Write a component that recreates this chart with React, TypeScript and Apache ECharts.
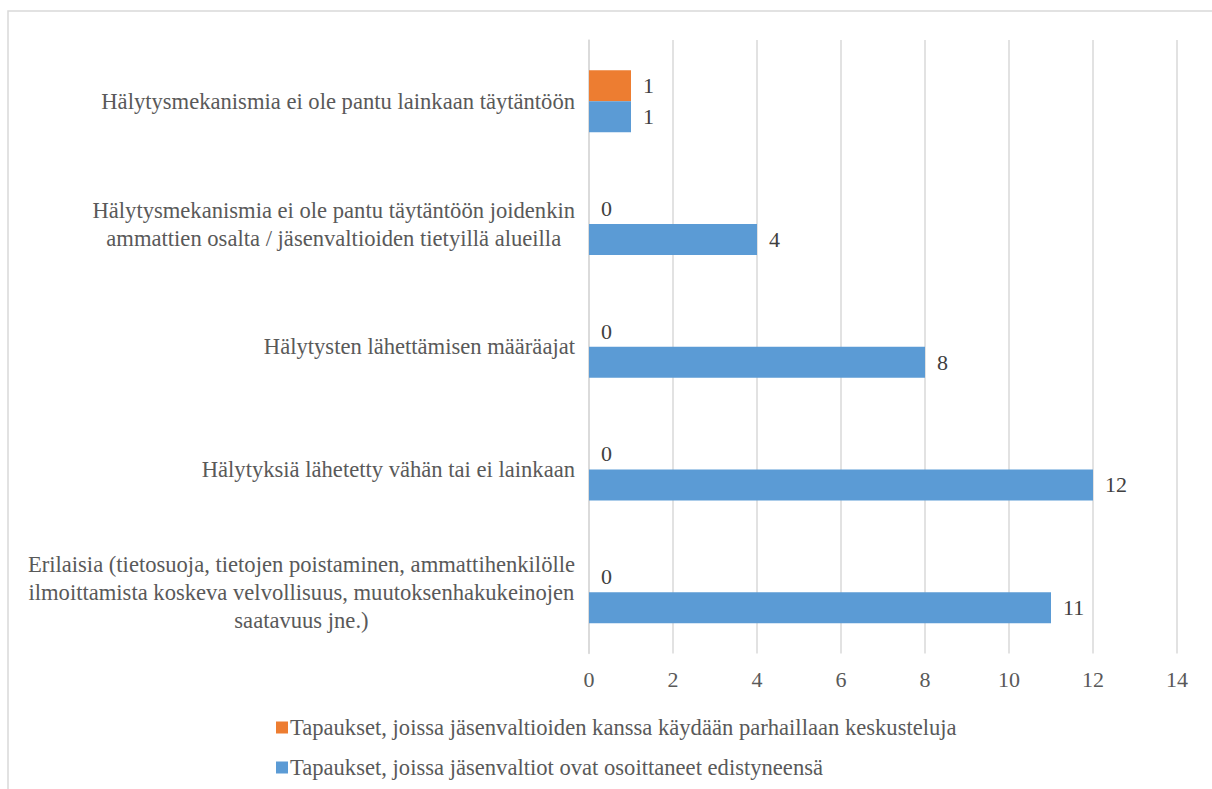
import React, { useEffect, useRef } from "react";
import * as echarts from "echarts";

const categories = [
  "Erilaisia (tietosuoja, tietojen poistaminen, ammattihenkilölle\nilmoittamista koskeva velvollisuus, muutoksenhakukeinojen\nsaatavuus jne.)",
  "Hälytyksiä lähetetty vähän tai ei lainkaan",
  "Hälytysten lähettämisen määräajat",
  "Hälytysmekanismia ei ole pantu täytäntöön joidenkin\nammattien osalta / jäsenvaltioiden tietyillä alueilla",
  "Hälytysmekanismia ei ole pantu lainkaan täytäntöön",
];

const seriesDiscussionName =
  "Tapaukset, joissa jäsenvaltioiden kanssa käydään parhaillaan keskusteluja";
const seriesProgressName =
  "Tapaukset, joissa jäsenvaltiot ovat osoittaneet edistyneensä";

const discussionValues = [0, 0, 0, 0, 1];
const progressValues = [11, 12, 8, 4, 1];

const xTicks = { min: 0, max: 14, interval: 2 };

const FONT = "'Liberation Serif', 'Times New Roman', serif";
const TEXT = "#595959";
const FS = 22;
const FS_WIDE = 22.6;

export default function App() {
  const ref = useRef<HTMLDivElement>(null);
  useEffect(() => {
    if (!ref.current) return;
    const chart = echarts.init(ref.current, null, { renderer: "svg" });
    const labelCommon = {
      show: true,
      position: "right" as const,
      distance: 12,
      fontFamily: FONT,
      fontSize: FS,
      color: "#404040",
    };
    chart.setOption({
      animation: false,
      backgroundColor: "#ffffff",
      textStyle: { fontFamily: FONT },
      graphic: [
        {
          type: "rect",
          shape: { x: 8, y: 11, width: 1400, height: 1000 },
          style: { fill: "none", stroke: "#d9d9d9", lineWidth: 1.5 },
          silent: true,
          z: -10,
        },
      ],
      grid: { left: 589, right: 35, top: 40, bottom: 135.5, containLabel: false },
      legend: {
        orient: "vertical",
        left: 271,
        top: 711,
        itemWidth: 12,
        itemHeight: 12,
        itemGap: 17,
        icon: "rect",
        data: [seriesDiscussionName, seriesProgressName],
        textStyle: {
          fontFamily: FONT,
          fontSize: FS_WIDE,
          color: TEXT,
          padding: [0, 0, 0, -3],
        },
      },
      xAxis: {
        type: "value",
        min: xTicks.min,
        max: xTicks.max,
        interval: xTicks.interval,
        axisLine: { show: false },
        axisTick: { show: false },
        splitLine: { show: true, lineStyle: { color: "#d9d9d9", width: 1.5 } },
        axisLabel: { fontFamily: FONT, fontSize: FS, color: TEXT, margin: 15 },
      },
      yAxis: {
        type: "category",
        data: categories,
        axisLine: { show: true, lineStyle: { color: "#d9d9d9", width: 1.5 } },
        axisTick: { show: false },
        axisLabel: {
          margin: 14,
          fontFamily: FONT,
          fontSize: FS_WIDE,
          color: TEXT,
          lineHeight: 28,
          formatter: (v: string) =>
            v
              .split("\n")
              .map((l) => `{c|${l}}`)
              .join("\n"),
          rich: {
            c: {
              align: "center",
              fontFamily: FONT,
              fontSize: FS_WIDE,
              color: TEXT,
              lineHeight: 28,
            },
          },
        },
      },
      series: [
        {
          name: seriesDiscussionName,
          type: "bar",
          data: discussionValues,
          barGap: "0%",
          barCategoryGap: "49.5%",
          itemStyle: { color: "#ED7D31" },
          label: labelCommon,
        },
        {
          name: seriesProgressName,
          type: "bar",
          data: progressValues,
          barGap: "0%",
          barCategoryGap: "49.5%",
          itemStyle: { color: "#5B9BD5" },
          label: labelCommon,
        },
      ],
    });
    return () => chart.dispose();
  }, []);
  return (
    <div
      ref={ref}
      style={{ position: "fixed", left: 0, top: 0, width: 1212, height: 789 }}
    />
  );
}
